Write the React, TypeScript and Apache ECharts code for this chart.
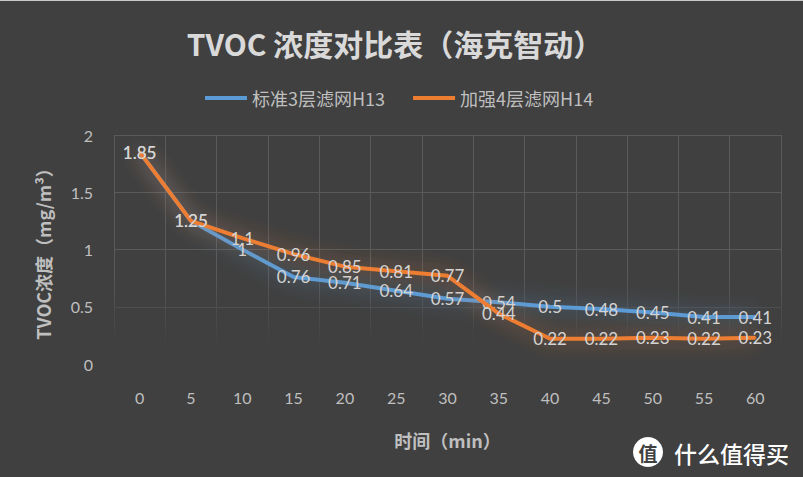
import React, { useEffect, useRef } from "react";
import * as echarts from "echarts";

const categories = ["0", "5", "10", "15", "20", "25", "30", "35", "40", "45", "50", "55", "60"];
const seriesNames = ["标准3层滤网H13", "加强4层滤网H14"];
const standardH13 = [1.85, 1.25, 1, 0.76, 0.71, 0.64, 0.57, 0.54, 0.5, 0.48, 0.45, 0.41, 0.41];
const enhancedH14 = [1.85, 1.25, 1.1, 0.96, 0.85, 0.81, 0.77, 0.44, 0.22, 0.22, 0.23, 0.22, 0.23];
const titleText = "TVOC 浓度对比表（海克智动）";
const yAxisName = "TVOC浓度（mg/m³）";
const xAxisName = "时间（min）";

const BG = "#404040";
const FONT = "Lato, 'Noto Sans CJK SC', sans-serif";
const CJK = "'Noto Sans CJK SC', Lato, sans-serif";

export default function App() {
  const ref = useRef<HTMLDivElement>(null);
  useEffect(() => {
    if (!ref.current) return;
    const chart = echarts.init(ref.current, undefined, { renderer: "svg" });
    const labelCfg = {
      show: true,
      position: "inside",
      color: "#d4d4d4",
      fontSize: 17,
      fontWeight: "normal",
      fontFamily: FONT,
    };
    chart.setOption({
      animation: false,
      backgroundColor: BG,
      textStyle: { fontFamily: FONT },
      grid: { left: 114, right: 22, top: 135, bottom: 113 },
      legend: {
        top: 84,
        left: 200,
        icon: "rect",
        itemWidth: 42,
        itemHeight: 4,
        itemGap: 28,
        textStyle: { color: "#bfbfbf", fontSize: 18, fontFamily: CJK },
        data: seriesNames,
      },
      xAxis: {
        type: "category",
        data: categories,
        boundaryGap: true,
        axisLine: { show: false },
        axisTick: { show: false },
        axisLabel: { color: "#bfbfbf", fontSize: 16, margin: 25, fontFamily: FONT },
        splitLine: { show: true, lineStyle: { color: "#5a5a5a", width: 1 } },
        name: xAxisName,
        nameLocation: "middle",
        nameGap: 67,
        nameTextStyle: { color: "#bfbfbf", fontSize: 18, fontWeight: "bold", fontFamily: CJK },
      },
      yAxis: {
        type: "value",
        min: 0,
        max: 2,
        interval: 0.5,
        axisLine: { show: false },
        axisTick: { show: false },
        axisLabel: { color: "#bfbfbf", fontSize: 16, margin: 21, fontFamily: FONT },
        splitLine: { show: true, lineStyle: { color: "#5a5a5a", width: 1 } },
        name: yAxisName,
        nameLocation: "middle",
        nameRotate: 90,
        nameGap: 62,
        nameTextStyle: { color: "#bfbfbf", fontSize: 18, fontWeight: "bold", fontFamily: CJK },
      },
      series: [
        {
          name: seriesNames[0],
          type: "line",
          data: standardH13,
          symbol: "circle",
          symbolSize: 2,
          itemStyle: { color: "#5B9BD5" },
          lineStyle: { color: "#5B9BD5", width: 4, shadowColor: "rgba(91,155,213,0.7)", shadowBlur: 20 },
          label: labelCfg,
          z: 3,
        },
        {
          name: seriesNames[1],
          type: "line",
          data: enhancedH14,
          symbol: "circle",
          symbolSize: 2,
          itemStyle: { color: "#ED7D31" },
          lineStyle: { color: "#ED7D31", width: 4, shadowColor: "rgba(237,125,49,0.7)", shadowBlur: 20 },
          label: labelCfg,
          z: 4,
        },
      ],
      graphic: [
        {
          type: "rect",
          z: 1,
          silent: true,
          shape: { x: 108, y: 275, width: 680, height: 95 },
          style: {
            fill: new echarts.graphic.LinearGradient(0, 0, 0, 1, [
              { offset: 0, color: "rgba(64,64,64,0)" },
              { offset: 0.7, color: "rgba(64,64,64,0.95)" },
              { offset: 1, color: "rgba(64,64,64,1)" },
            ]),
          },
        },
        {
          type: "rect",
          z: 1,
          silent: true,
          shape: { x: 0, y: 0, width: 803, height: 1 },
          style: { fill: "#c8c8c8" },
        },
        {
          type: "text",
          z: 5,
          x: 395,
          y: 43,
          style: {
            text: titleText,
            fill: "#d9d9d9",
            font: `bold 30px ${CJK}`,
            align: "center",
            verticalAlign: "middle",
          },
        },
        {
          type: "circle",
          z: 5,
          shape: { cx: 648, cy: 452, r: 15 },
          style: { fill: "#ffffff" },
        },
        {
          type: "text",
          z: 6,
          x: 648,
          y: 452,
          style: {
            text: "值",
            fill: "#404040",
            font: `bold 19px ${CJK}`,
            align: "center",
            verticalAlign: "middle",
          },
        },
        {
          type: "text",
          z: 5,
          x: 674,
          y: 453,
          style: {
            text: "什么值得买",
            fill: "#ffffff",
            font: `500 23px ${CJK}`,
            align: "left",
            verticalAlign: "middle",
          },
        },
      ],
    });
    return () => chart.dispose();
  }, []);
  return <div ref={ref} style={{ width: 803, height: 477, position: "fixed", left: 0, top: 0 }} />;
}
